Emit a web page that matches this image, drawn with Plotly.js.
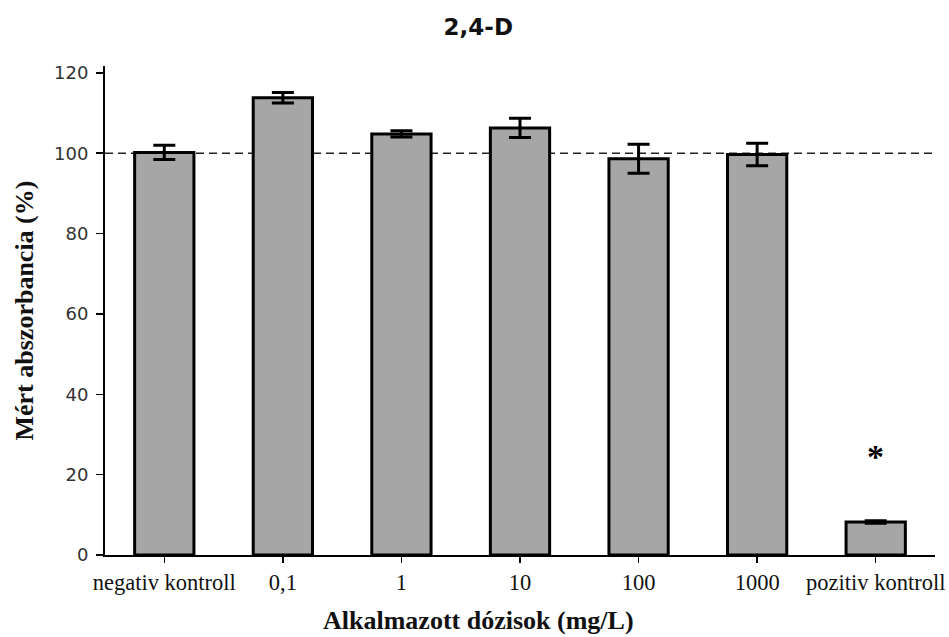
<!DOCTYPE html>
<html>
<head>
<meta charset="utf-8">
<script src="https://cdn.plot.ly/plotly-3.0.1.min.js"></script>
<style>html,body{margin:0;padding:0;background:#fff;}#chart{width:949px;height:637px;}</style>
</head>
<body>
<div id="chart"></div>
<script>
const categories = ["negativ kontroll", "0,1", "1", "10", "100", "1000", "pozitiv kontroll"];
const values = [100.2, 113.8, 104.8, 106.3, 98.6, 99.7, 8.2];
const errors = [1.8, 1.3, 0.8, 2.4, 3.6, 2.8, 0.3];
const referenceLevel = 100;
const significanceMark = {category: "pozitiv kontroll", y: 24.5, text: "*"};
const yTicks = [0, 20, 40, 60, 80, 100, 120];

const trace = {
  type: "bar",
  x: categories,
  y: values,
  marker: {color: "#a6a6a6", line: {color: "#000", width: 3}},
  error_y: {type: "data", array: errors, visible: true, color: "#000", thickness: 3, width: 11},
  hoverinfo: "x+y"
};

const margin = {l: 105, r: 14, t: 66, b: 82};
const plotW = 949 - margin.l - margin.r;
const plotH = 637 - margin.t - margin.b;

const layout = {
  width: 949, height: 637,
  margin: margin,
  paper_bgcolor: "#fff", plot_bgcolor: "#fff",
  showlegend: false,
  bargap: 0.5,
  title: {text: "<b>2,4-D</b>", x: 0.504, xref: "container", xanchor: "center", y: 0.958, yref: "container", yanchor: "middle",
          font: {family: "DejaVu Sans", size: 23, color: "#111"}},
  xaxis: {
    type: "category", range: [-0.5, 6.5],
    showline: true, linecolor: "#000", linewidth: 2,
    ticks: "outside", ticklen: 6, tickwidth: 1.5, tickcolor: "#000",
    showgrid: false, zeroline: false,
    tickfont: {family: "Liberation Serif", size: 22.5, color: "#111"}
  },
  yaxis: {
    range: [0, 121.7], tickvals: yTicks,
    showline: true, linecolor: "#000", linewidth: 2,
    ticks: "outside", ticklen: 7, tickwidth: 1.5, tickcolor: "#000",
    ticklabelstandoff: 4,
    showgrid: false, zeroline: false,
    tickfont: {family: "DejaVu Sans", size: 18, color: "#333"}
  },
  shapes: [{
    type: "line", xref: "paper", x0: 0, x1: 1, yref: "y", y0: referenceLevel, y1: referenceLevel,
    layer: "below", line: {color: "#222", width: 1.5, dash: "8px,5px"}
  }],
  annotations: [{
    x: significanceMark.category, y: significanceMark.y, xref: "x", yref: "y",
    text: "<b>" + significanceMark.text + "</b>", showarrow: false,
    font: {family: "Liberation Serif", size: 34, color: "#000"}
  }, {
    // x-axis title, centred on the page as in the reference
    x: (478.5 - margin.l) / plotW, xref: "paper",
    y: -(620 - (637 - margin.b)) / plotH, yref: "paper",
    xanchor: "center", yanchor: "middle",
    text: "<b>Alkalmazott dózisok (mg/L)</b>", showarrow: false,
    font: {family: "Liberation Serif", size: 26, color: "#111"}
  }, {
    // y-axis title
    x: -(margin.l - 24) / plotW, xref: "paper",
    y: 0.5, yref: "paper",
    xanchor: "center", yanchor: "middle", textangle: -90,
    text: "<b>Mért abszorbancia (%)</b>", showarrow: false,
    font: {family: "Liberation Serif", size: 26, color: "#111"}
  }]
};

Plotly.newPlot("chart", [trace], layout, {displayModeBar: false, staticPlot: true});
</script>
</body>
</html>
